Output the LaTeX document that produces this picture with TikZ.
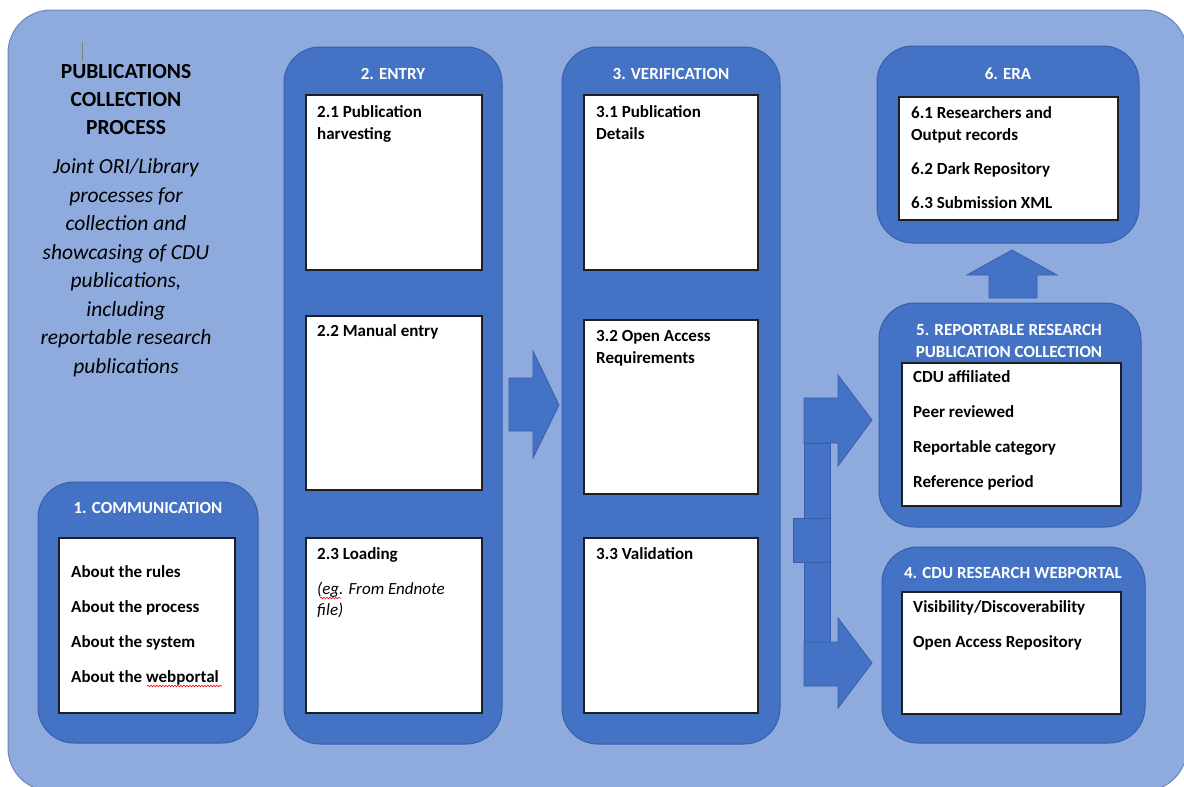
\documentclass[tikz,border=0pt]{standalone}
\usepackage{fontspec}
\setmainfont{Carlito}
\usetikzlibrary{decorations.pathmorphing}
\definecolor{bgfillcolor}{rgb}{0.560784, 0.666667, 0.862745}
\definecolor{bglinecolor}{rgb}{0.411765, 0.525490, 0.760784}
\definecolor{panelfillcolor}{rgb}{0.266667, 0.447059, 0.768627}
\definecolor{panellinecolor}{rgb}{0.215686, 0.372549, 0.678431}
\newlength{\du}
\setlength{\du}{1pt}
\tikzset{
  panel/.style={draw=panellinecolor, fill=panelfillcolor, line width=1\du, rounded corners=36\du, inner sep=0pt},
  itembox/.style={draw=black!88, fill=white, line width=1.6\du, inner sep=0pt},
  paneltitle/.style={text=white, font=\fontsize{17}{22}\selectfont\bfseries, align=center, inner sep=0pt, anchor=base},
  itemtext/.style={font=\fontsize{17}{22}\selectfont\bfseries, align=left, inner sep=0pt, anchor=base west},
  notetext/.style={font=\fontsize{17}{21}\selectfont\itshape, align=left, inner sep=0pt, anchor=base west},
  blockarrow/.style={draw=panellinecolor, fill=panelfillcolor, line width=0.8\du},
  spellmark/.style={draw=red, line width=0.6\du, decorate, decoration={snake, amplitude=0.8\du, segment length=3\du}},
}
\begin{document}
\begin{tikzpicture}
\pgftransformxscale{1.000000}
\pgftransformyscale{-1.000000}
\useasboundingbox (0\du,0\du) rectangle (1184\du,787\du);
\clip (0\du,0\du) rectangle (1184\du,787\du);
% background
\draw[fill=bgfillcolor, draw=bglinecolor, line width=1\du, rounded corners=43\du] (8\du,10\du) rectangle (1187\du,791\du);
\draw[gray, line width=0.8\du] (82\du,42\du)--(82\du,61\du);
% heading (multi-line nodes sit on their last baseline)
\node[inner sep=0pt, anchor=base, align=center, font=\fontsize{21.5}{28}\selectfont\bfseries] (heading) at (126\du,134\du) {PUBLICATIONS\\COLLECTION\\PROCESS};
\node[inner sep=0pt, anchor=base, align=center, font=\fontsize{21.5}{28.5}\selectfont\itshape] (subheading) at (126\du,373\du) {Joint ORI/Library\\processes for\\collection and\\showcasing of CDU\\publications,\\including\\reportable research\\publications};
% panels
\node[panel, minimum width=220\du, minimum height=261\du] (comm) at (148\du,612.5\du) {};
\node[panel, minimum width=218\du, minimum height=697\du] (entry) at (393\du,395.5\du) {};
\node[panel, minimum width=218\du, minimum height=697\du] (verif) at (671\du,395.5\du) {};
\node[panel, minimum width=262\du, minimum height=197\du] (era) at (1008\du,144.5\du) {};
\node[panel, minimum width=262\du, minimum height=224\du] (report) at (1010\du,415\du) {};
\node[panel, minimum width=263\du, minimum height=196\du] (portal) at (1013.5\du,645\du) {};
% panel titles
\node[paneltitle] (commtitle) at (148\du,513\du) {1. COMMUNICATION};
\node[paneltitle] (entrytitle) at (393\du,79\du) {2. ENTRY};
\node[paneltitle] (veriftitle) at (671\du,79\du) {3. VERIFICATION};
\node[paneltitle] (eratitle) at (1008\du,79\du) {6. ERA};
\node[paneltitle] (reporttitle) at (1009\du,357\du) {5. REPORTABLE RESEARCH\\PUBLICATION COLLECTION};
\node[paneltitle] (portaltitle) at (1013\du,578\du) {4. CDU RESEARCH WEBPORTAL};
% white boxes
\node[itembox, minimum width=176\du, minimum height=175\du] (commbox) at (147\du,625.5\du) {};
\node[itembox, minimum width=176\du, minimum height=175\du] (harvestbox) at (394\du,182.5\du) {};
\node[itembox, minimum width=176\du, minimum height=174\du] (manualbox) at (394\du,403\du) {};
\node[itembox, minimum width=176\du, minimum height=175\du] (loadbox) at (394\du,625.5\du) {};
\node[itembox, minimum width=174\du, minimum height=175\du] (detailbox) at (671\du,182.5\du) {};
\node[itembox, minimum width=174\du, minimum height=174\du] (accessbox) at (671\du,407\du) {};
\node[itembox, minimum width=174\du, minimum height=175\du] (validbox) at (671\du,625.5\du) {};
\node[itembox, minimum width=219\du, minimum height=123\du] (erabox) at (1008.5\du,158.5\du) {};
\node[itembox, minimum width=219\du, minimum height=143\du] (reportbox) at (1011.5\du,434.5\du) {};
\node[itembox, minimum width=219\du, minimum height=122\du] (portalbox) at (1011.5\du,653\du) {};
% box texts
\node[itemtext] (commtext) at (71\du,682\du) {About the rules\\[13\du]About the process\\[13\du]About the system\\[13\du]About the webportal};
\node[itemtext] (harvesttext) at (317\du,139\du) {2.1 Publication\\harvesting};
\node[itemtext] (manualtext) at (317\du,336\du) {2.2 Manual entry};
\node[itemtext] (loadtext) at (317\du,559\du) {2.3 Loading};
\node[notetext] (loadnote) at (317\du,615\du) {(eg. From Endnote\\file)};
\node[itemtext] (detailtext) at (596\du,139\du) {3.1 Publication\\Details};
\node[itemtext] (accesstext) at (596\du,363\du) {3.2 Open Access\\Requirements};
\node[itemtext] (validtext) at (596\du,559\du) {3.3 Validation};
\node[itemtext] (eratext) at (911\du,208\du) {6.1 Researchers and\\Output records\\[12\du]6.2 Dark Repository\\[12\du]6.3 Submission XML};
\node[itemtext] (reporttext) at (913\du,487\du) {CDU affiliated\\[13\du]Peer reviewed\\[13\du]Reportable category\\[13\du]Reference period};
\node[itemtext] (portaltext) at (913\du,647\du) {Visibility/Discoverability\\[13\du]Open Access Repository};
% spelling marks
\draw[spellmark] (147\du,686\du)--(222\du,686\du);
\draw[spellmark] (320\du,598\du)--(341\du,598\du);
% block arrows
\draw[blockarrow] (509\du,378\du)--(533\du,378\du)--(533\du,351\du)--(559\du,405\du)--(533\du,458\du)--(533\du,431\du)--(509\du,431\du)--cycle;
\draw[blockarrow] (989\du,298\du)--(989\du,275\du)--(967\du,275\du)--(1012\du,250\du)--(1057\du,275\du)--(1037\du,275\du)--(1037\du,298\du)--cycle;
\draw[blockarrow] (804\du,443\du) rectangle (830\du,642\du);
\draw[blockarrow] (804\du,398\du)--(838\du,398\du)--(838\du,375\du)--(872\du,420\du)--(838\du,466\du)--(838\du,443\du)--(804\du,443\du)--cycle;
\draw[blockarrow] (804\du,642\du)--(838\du,642\du)--(838\du,618\du)--(872\du,663\du)--(838\du,708\du)--(838\du,686\du)--(804\du,686\du)--cycle;
\draw[blockarrow] (793\du,518\du) rectangle (830\du,562\du);
\end{tikzpicture}
\end{document}
